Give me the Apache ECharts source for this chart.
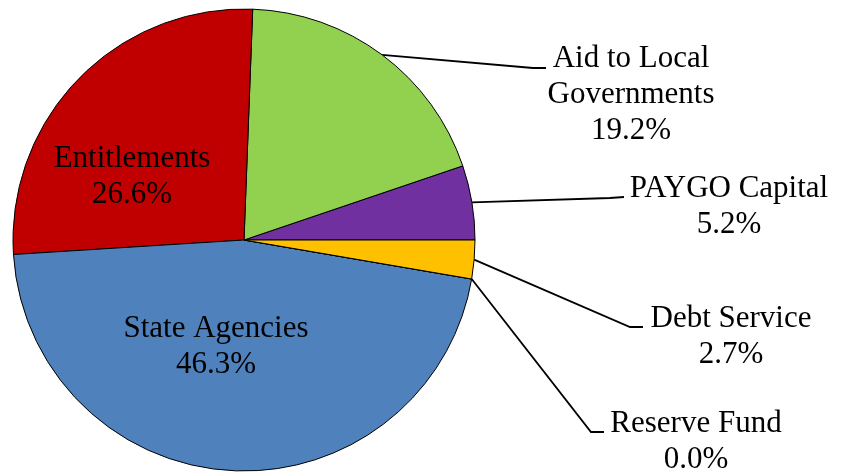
<!DOCTYPE html>
<html>
<head>
<meta charset="utf-8">
<script src="https://cdn.jsdelivr.net/npm/echarts@6/dist/echarts.min.js"></script>
<style>
html,body{margin:0;padding:0;background:#fff;}
#chart{width:841px;height:474px;}
</style>
</head>
<body>
<div id="chart"></div>
<script>
// Data (percent of total), in drawing order counter-clockwise from 3 o'clock
const categories = ['PAYGO Capital', 'Aid to Local\nGovernments', 'Entitlements', 'State Agencies', 'Reserve Fund', 'Debt Service'];
const values = [5.2, 19.2, 26.6, 46.3, 0.0, 2.7];
const colors = ['#7030A0', '#92D050', '#C00000', '#4F81BD', '#4F81BD', '#FFC000'];

// Label placement (layout only)
const labelPlace = [
  { x: 729, y: 207, line: [[610, 198], [624, 197]] },
  { x: 631, y: 95,  line: [[533, 68], [546, 68]] },
  { x: 132, y: 177, line: null },
  { x: 216, y: 347, line: null },
  { x: 696, y: 442, line: [[591, 432], [604, 432]] },
  { x: 731, y: 337, line: [[630, 327], [643, 327]] }
];

const CX = 244, CY = 240, R = 231;
const total = values.reduce((a, b) => a + b, 0);

function edgePoint(idx) {
  let cum = 0;
  for (let i = 0; i < idx; i++) cum += values[i];
  const mid = (cum + values[idx] / 2) / total * Math.PI * 2;
  return [CX + R * Math.cos(mid), CY - R * Math.sin(mid)];
}

const chart = echarts.init(document.getElementById('chart'), null, { renderer: 'canvas' });
const data = categories.map((name, i) => {
  const inside = labelPlace[i].line === null;
  return {
    name: name,
    value: values[i],
    itemStyle: { color: colors[i] },
    label: { position: inside ? 'inside' : 'outside' },
    labelLine: { show: !inside }
  };
});

chart.setOption({
  animation: false,
  series: [{
    type: 'pie',
    center: [CX, CY],
    radius: R,
    startAngle: 0,
    clockwise: false,
    avoidLabelOverlap: false,
    minShowLabelAngle: 0,
    silent: true,
    itemStyle: { borderColor: '#000', borderWidth: 1 },
    label: {
      show: true,
      color: '#000',
      fontFamily: '"Liberation Serif", "Times New Roman", serif',
      fontSize: 31,
      lineHeight: 36,
      align: 'center',
      formatter: p => p.name + '\n' + Number(p.value).toFixed(1) + '%'
    },
    labelLine: {
      show: true,
      length: 20,
      length2: 10,
      lineStyle: { color: '#000', width: 1.8 }
    },
    labelLayout: function (params) {
      const pl = labelPlace[params.dataIndex];
      const res = { x: pl.x, y: pl.y, align: 'center', verticalAlign: 'middle' };
      if (pl.line) {
        const start = (params.labelLinePoints && params.labelLinePoints[0]) || edgePoint(params.dataIndex);
        res.labelLinePoints = [start, pl.line[0], pl.line[1]];
      }
      return res;
    },
    data: data
  }]
});
</script>
</body>
</html>
